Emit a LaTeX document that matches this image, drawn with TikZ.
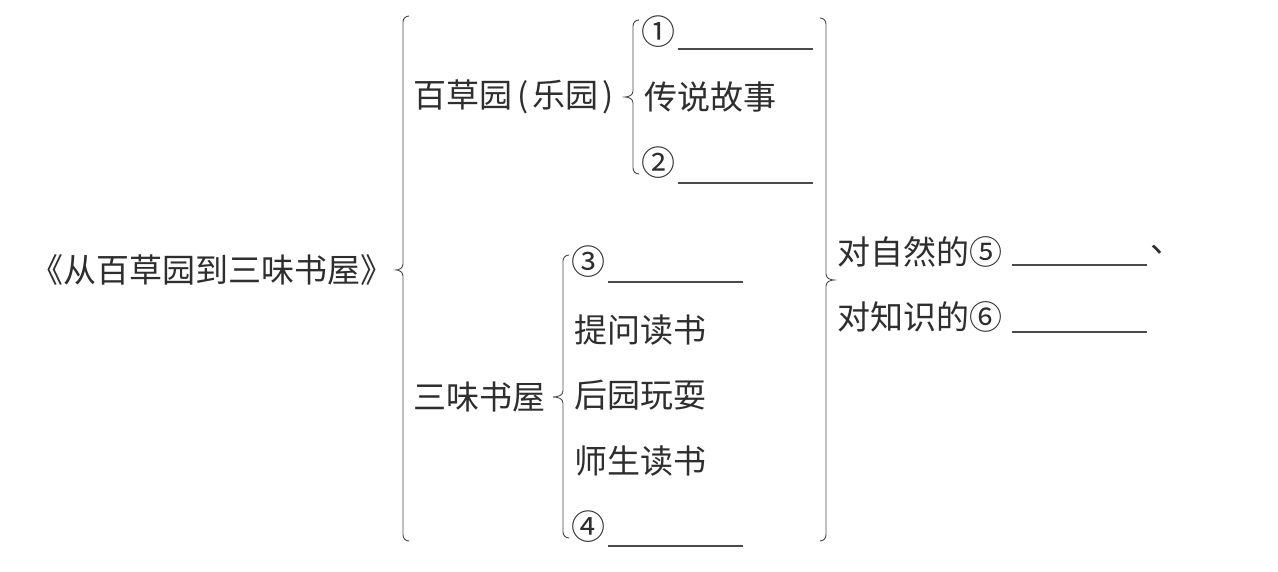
\documentclass[tikz,border=0pt]{standalone}
\usepackage{fontspec}
\setmainfont{Noto Sans CJK SC}
\newfontfamily\cjk{Noto Sans CJK SC}
\definecolor{ink}{HTML}{2E2E2E}
\definecolor{lineink}{HTML}{4A4A4A}
\tikzset{
  txt/.style={inner sep=0pt, anchor=west, text=ink, font=\cjk\fontsize{33pt}{33pt}\selectfont},
  num/.style={inner sep=0pt, anchor=center, text=ink, font=\cjk\fontsize{34pt}{34pt}\selectfont},
  blankline/.style={draw=lineink, line width=1.3pt},
  bracestyle/.style={draw=lineink, line width=0.9pt, line cap=round},
}
% left-pointing brace: #1 line x, #2 tip x, #3 top y, #4 tip y, #5 bottom y
\newcommand{\mylbr}[5]{%
  \draw[bracestyle] (#1+6,#3) to[out=180,in=90] (#1,#3+6) -- (#1,#4-6)
    to[out=-90,in=0] (#2,#4) to[out=0,in=90] (#1,#4+6) -- (#1,#5-6)
    to[out=-90,in=180] (#1+6,#5);}
% right-pointing brace
\newcommand{\myrbr}[5]{%
  \draw[bracestyle] (#1-6,#3) to[out=0,in=90] (#1,#3+6) -- (#1,#4-6)
    to[out=-90,in=180] (#2,#4) to[out=180,in=90] (#1,#4+6) -- (#1,#5-6)
    to[out=-90,in=0] (#1-6,#5);}
\begin{document}
\begin{tikzpicture}[x=1pt,y=-1pt]
\useasboundingbox[fill=white] (0,0) rectangle (1278,572);
% main title
\node[txt] (title) at (30,270) {《从百草园到三味书屋》};
% big left brace
\mylbr{403}{396}{16}{270}{541}
% upper branch
\node[txt] (bcy) at (413,97) {百草园\hspace{5pt}(\hspace{4pt}乐园\hspace{4pt})};
\mylbr{633}{625}{20}{97}{174}
\node[num] (n1) at (658,32) {①};
\draw[blankline] (678,49) coordinate (l1a) -- (813,49) coordinate (l1b);
\node[txt] (csgs) at (644,97) {传说故事};
\node[num] (n2) at (658,163) {②};
\draw[blankline] (678,183) coordinate (l2a) -- (813,183) coordinate (l2b);
% lower branch
\node[txt] (swsw) at (413,397) {三味书屋};
\mylbr{563}{553}{255}{397}{538}
\node[num] (n3) at (588,262) {③};
\draw[blankline] (608,282) coordinate (l3a) -- (743,282) coordinate (l3b);
\node[txt] (twds) at (574,330) {提问读书};
\node[txt] (hywy) at (574,395) {后园玩耍};
\node[txt] (ssds) at (574,461) {师生读书};
\node[num] (n4) at (588,527) {④};
\draw[blankline] (608,546) coordinate (l4a) -- (743,546) coordinate (l4b);
% right brace
\myrbr{826}{834}{18}{280}{541}
\node[txt] (dzr) at (837,252) {对自然的⑤};
\draw[blankline] (1012,265) coordinate (l5a) -- (1147,265) coordinate (l5b);
\node[txt] (dun) at (1150,250) {、};
\node[txt] (dzs) at (837,317) {对知识的⑥};
\draw[blankline] (1012,332) coordinate (l6a) -- (1147,332) coordinate (l6b);
\end{tikzpicture}
\end{document}
